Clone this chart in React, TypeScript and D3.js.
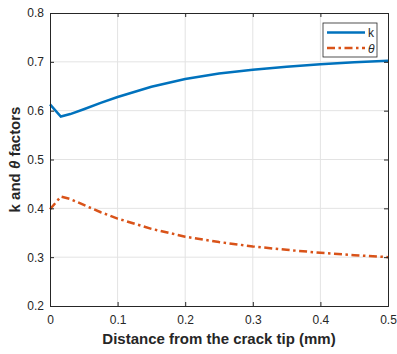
import { useEffect, useRef } from "react"
import * as d3 from "d3"

const distance = [0, 0.016, 0.03, 0.05, 0.075, 0.1, 0.15, 0.2, 0.25, 0.3, 0.35, 0.4, 0.45, 0.5]
const kValues = [0.613, 0.588, 0.593, 0.603, 0.616, 0.628, 0.649, 0.665, 0.676, 0.684, 0.69, 0.695, 0.699, 0.702]
const thetaValues = [0.398, 0.424, 0.419, 0.407, 0.392, 0.379, 0.358, 0.342, 0.331, 0.322, 0.315, 0.309, 0.304, 0.3]
const xTicks = [0, 0.1, 0.2, 0.3, 0.4, 0.5]
const yTicks = [0.2, 0.3, 0.4, 0.5, 0.6, 0.7, 0.8]

export default function App() {
  const svgRef = useRef<SVGSVGElement>(null)

  useEffect(() => {
    if (!svgRef.current) return
    const svg = d3.select(svgRef.current)
    svg.selectAll("*").remove()

    const margin = { top: 13, right: 9, bottom: 48, left: 50 }
    const width = 397
    const height = 354
    const innerWidth = width - margin.left - margin.right
    const innerHeight = height - margin.top - margin.bottom
    const font = "Liberation Sans, Arial, sans-serif"
    const textColor = "#262626"
    const dash = "8,3.5,2.5,3.5"

    const x = d3.scaleLinear().domain([0, 0.5]).range([0, innerWidth])
    const y = d3.scaleLinear().domain([0.2, 0.8]).range([innerHeight, 0])

    const g = svg.append("g").attr("transform", `translate(${margin.left}, ${margin.top})`)

    // grid
    g.selectAll(".gx")
      .data(xTicks.slice(1, -1))
      .enter()
      .append("line")
      .attr("x1", (d) => x(d))
      .attr("x2", (d) => x(d))
      .attr("y1", 0)
      .attr("y2", innerHeight)
      .attr("stroke", "#e3e3e3")
    g.selectAll(".gy")
      .data(yTicks.slice(1, -1))
      .enter()
      .append("line")
      .attr("y1", (d) => y(d))
      .attr("y2", (d) => y(d))
      .attr("x1", 0)
      .attr("x2", innerWidth)
      .attr("stroke", "#e3e3e3")

    // lines
    const line = d3
      .line<number>()
      .x((_, i) => x(distance[i]))
      .y((d) => y(d))

    g.append("path")
      .datum(kValues)
      .attr("d", line)
      .attr("fill", "none")
      .attr("stroke", "#0072BD")
      .attr("stroke-width", 2.5)

    g.append("path")
      .datum(thetaValues)
      .attr("d", line)
      .attr("fill", "none")
      .attr("stroke", "#D95319")
      .attr("stroke-width", 2.5)
      .attr("stroke-dasharray", dash)

    // axes (box with inward ticks)
    const bottom = g
      .append("g")
      .attr("transform", `translate(0, ${innerHeight})`)
      .call(d3.axisBottom(x).tickValues(xTicks).tickSize(-4).tickPadding(9).tickFormat(d3.format("")))
    const left = g.append("g").call(d3.axisLeft(y).tickValues(yTicks).tickSize(-4).tickPadding(6).tickFormat(d3.format(".1f")))
    g.append("g").call(d3.axisTop(x).tickValues(xTicks).tickSize(-4).tickFormat(() => ""))
    g.append("g")
      .attr("transform", `translate(${innerWidth}, 0)`)
      .call(d3.axisRight(y).tickValues(yTicks).tickSize(-4).tickFormat(() => ""))

    g.selectAll(".domain").attr("stroke", textColor).attr("stroke-width", 1)
    g.selectAll(".tick line").attr("stroke", textColor)
    ;[bottom, left].forEach((a) =>
      a.selectAll("text").attr("fill", textColor).attr("font-size", "12px").attr("font-family", font),
    )

    // axis labels
    svg
      .append("text")
      .attr("x", margin.left + innerWidth / 2)
      .attr("y", 344)
      .attr("text-anchor", "middle")
      .attr("fill", textColor)
      .attr("font-size", "15px")
      .attr("font-weight", "bold")
      .attr("font-family", font)
      .text("Distance from the crack tip (mm)")

    const yl = svg
      .append("text")
      .attr("transform", `translate(20, ${margin.top + innerHeight / 2}) rotate(-90)`)
      .attr("text-anchor", "middle")
      .attr("fill", textColor)
      .attr("font-size", "15px")
      .attr("font-weight", "bold")
      .attr("font-family", font)
    yl.append("tspan").text("k and ")
    yl.append("tspan").attr("font-style", "italic").text("θ")
    yl.append("tspan").text(" factors")

    // legend
    const legend = svg.append("g").attr("transform", "translate(323, 23)")
    legend.append("rect").attr("width", 54).attr("height", 34).attr("fill", "white").attr("stroke", textColor).attr("stroke-width", 0.8)
    legend.append("line").attr("x1", 4).attr("x2", 42).attr("y1", 9.5).attr("y2", 9.5).attr("stroke", "#0072BD").attr("stroke-width", 2.5)
    legend
      .append("line")
      .attr("x1", 4)
      .attr("x2", 42)
      .attr("y1", 25)
      .attr("y2", 25)
      .attr("stroke", "#D95319")
      .attr("stroke-width", 2.5)
      .attr("stroke-dasharray", dash)
    legend.append("text").attr("x", 45).attr("y", 14).attr("font-size", "12px").attr("font-family", font).attr("fill", textColor).text("k")
    legend
      .append("text")
      .attr("x", 45)
      .attr("y", 29.5)
      .attr("font-size", "12px")
      .attr("font-style", "italic")
      .attr("font-family", font)
      .attr("fill", textColor)
      .text("θ")
  }, [])

  return (
    <div style={{ position: "absolute", left: 0, top: 0 }}>
      <svg ref={svgRef} width={397} height={354} style={{ display: "block", background: "white" }} />
    </div>
  )
}
